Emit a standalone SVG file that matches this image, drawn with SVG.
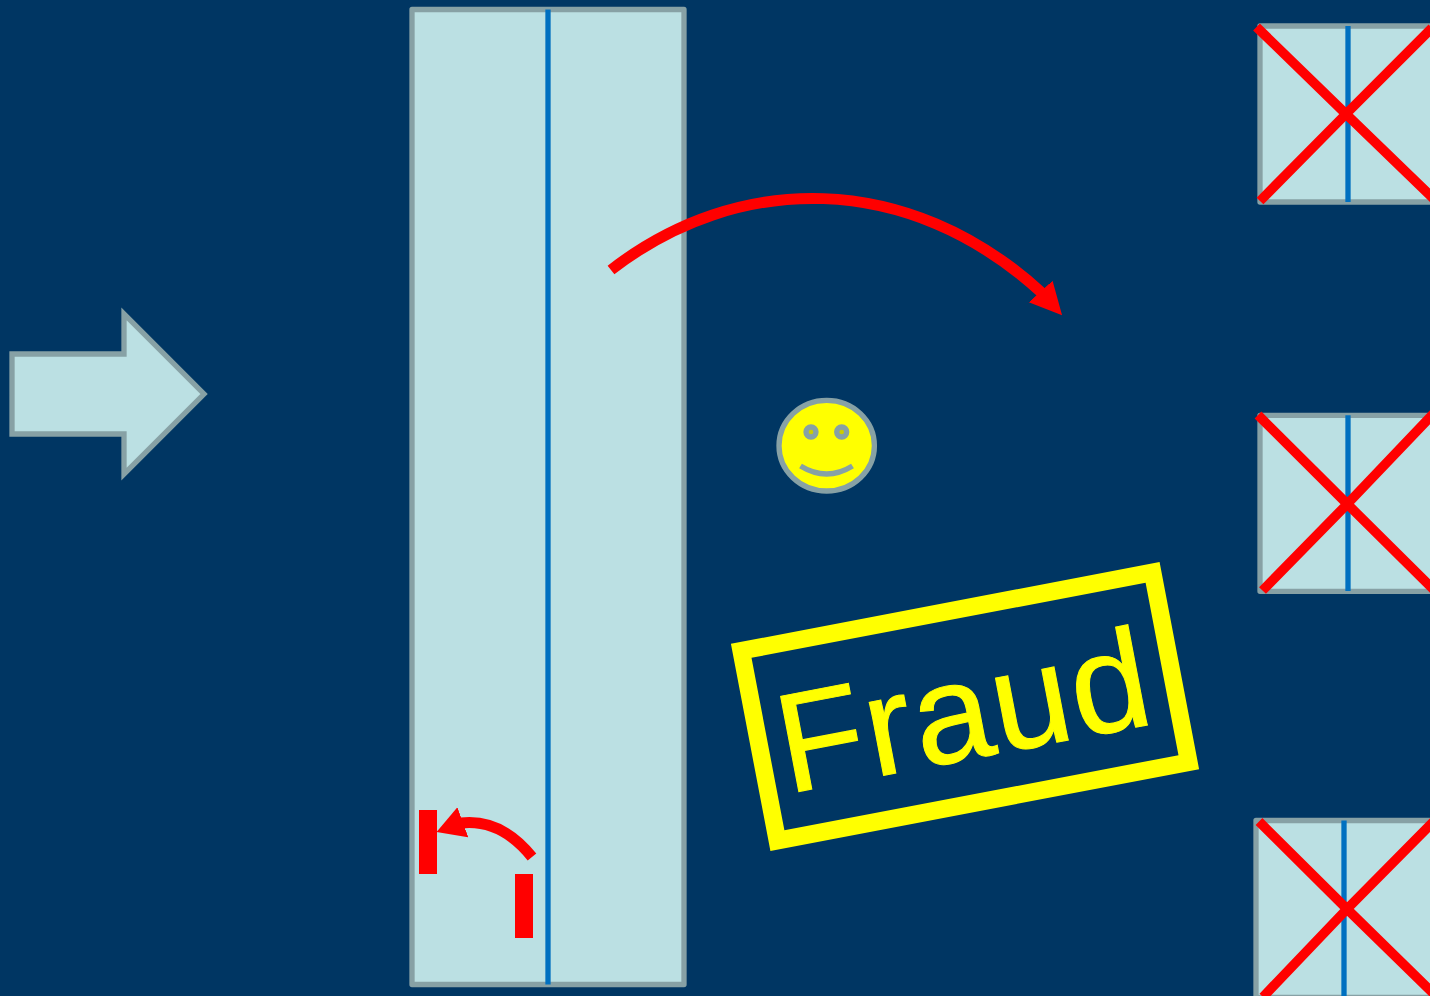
<svg xmlns="http://www.w3.org/2000/svg" width="1430" height="996" viewBox="0 0 1430 996">
<style>
.pale{fill:#bbe0e3;stroke:#87a1a5;stroke-width:5.3;stroke-linejoin:round}
.mid{stroke:#0070c0;stroke-width:5.3;fill:none}
.x{stroke:#ff0000;stroke-width:9.6;fill:none}
.bar{fill:#ff0000}
.sm{stroke:#87a1a5;stroke-width:5.3}
</style>
<defs>
<marker id="headL" markerUnits="userSpaceOnUse" markerWidth="34" markerHeight="34" refX="2" refY="17" orient="48"><polygon points="0,1 32,17 0,33" fill="#ff0000"/></marker>
<marker id="headS" markerUnits="userSpaceOnUse" markerWidth="30" markerHeight="34" refX="2" refY="17" orient="160"><polygon points="0,1 28,17 0,33" fill="#ff0000"/></marker>
</defs>
<rect width="1430" height="996" fill="#003663"/>
<g id="input-arrow"><polygon class="pale" style="stroke-linejoin:miter" points="12,354 124,354 124,314 204,394 124,474 124,434 12,434"/></g>
<g id="main-column"><rect class="pale" x="412" y="9.5" width="272" height="975"/><line class="mid" x1="548" y1="9.5" x2="548" y2="984.5"/></g>
<g id="bar-left"><rect class="bar" x="419" y="810" width="18" height="64"/></g>
<g id="bar-right"><rect class="bar" x="515" y="874" width="18" height="64"/></g>
<g id="box-top"><rect class="pale" x="1260" y="26" width="180" height="176"/><line class="mid" x1="1348" y1="26" x2="1348" y2="202"/><path class="x" d="M1256.500 27L1346 114L1436 201M1260 201L1346 114L1432 28"/></g>
<g id="box-middle"><rect class="pale" x="1260" y="415.300" width="180" height="176"/><line class="mid" x1="1348" y1="415.300" x2="1348" y2="591"/><path class="x" d="M1258 415L1347.300 504L1437 593M1262.500 590.500L1347.300 504L1436 411"/></g>
<g id="box-bottom"><rect class="pale" x="1256" y="820.500" width="180" height="177"/><line class="mid" x1="1344" y1="820.500" x2="1344" y2="997"/><path class="x" d="M1259 821.500L1347 909L1437 997M1263 997L1347 909L1436 819"/></g>
<g id="smiley"><ellipse cx="826.700" cy="445.700" rx="47.700" ry="45.300" fill="#ffff00" class="sm"/><circle cx="811" cy="432" r="5" fill="#cccc00" class="sm"/><circle cx="841.700" cy="432" r="5" fill="#cccc00" class="sm"/><path d="M800.500 466Q826.700 482 852.500 466" fill="none" class="sm"/></g>
<g id="fraud-stamp" transform="translate(965 706.500) rotate(-10.800)"><rect x="-209.400" y="-96.600" width="418.800" height="193.200" fill="none" stroke="#ffff00" stroke-width="17.600"/><text x="-190.700" y="52.400" font-family="'Liberation Sans',Arial,sans-serif" font-size="141" fill="#ffff00" stroke="#ffff00" stroke-width="1" letter-spacing="1.800" style="font-kerning:none">Fraud</text></g>
<g id="connectors">
<path d="M611 270C737 172 908 170 1042 293" fill="none" stroke="#ff0000" stroke-width="11" marker-end="url(#headL)"/>
<path d="M532 857C512 832 488 820 461 823" fill="none" stroke="#ff0000" stroke-width="11" marker-end="url(#headS)"/>
</g>
</svg>
